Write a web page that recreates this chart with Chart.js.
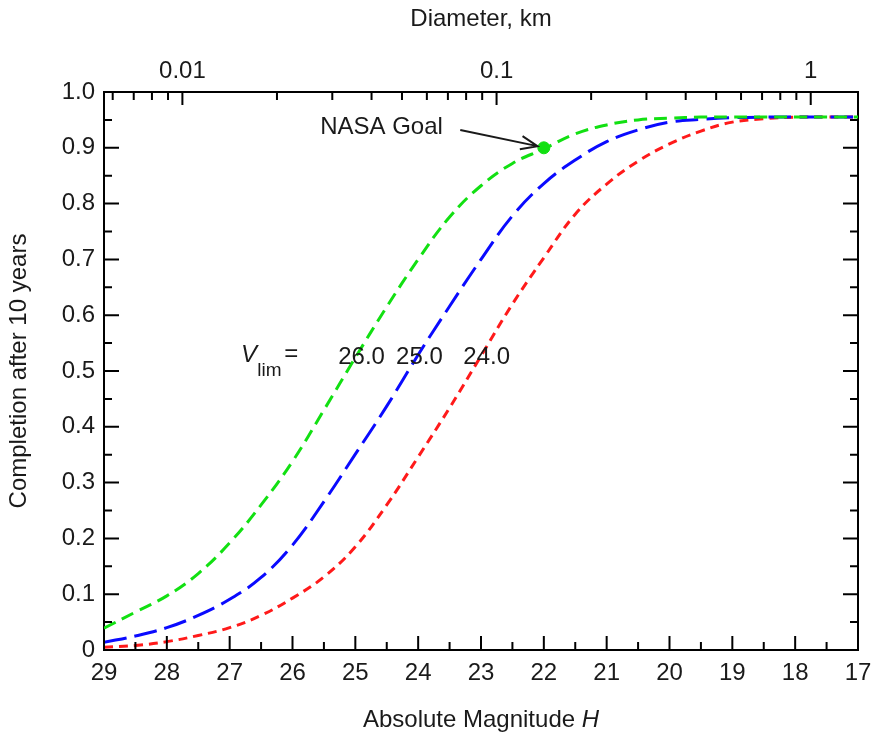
<!DOCTYPE html>
<html>
<head>
<meta charset="utf-8">
<script src="https://cdn.jsdelivr.net/npm/chart.js@4"></script>
<style>
  body { margin: 0; background: #fff; }
  #wrap { width: 871px; height: 739px; }
</style>
</head>
<body>
<div id="wrap"><canvas id="chartCompletion" width="871" height="739"></canvas></div>
<script>
// Datos
const magnitudes = [29, 28.5, 28, 27.5, 27, 26.5, 26, 25.5, 25, 24.5, 24, 23.5, 23, 22.5, 22, 21.5, 21, 20.5, 20, 19.5, 19, 18.5, 18, 17.5, 17];
const vlim260 = [0.039, 0.068, 0.097, 0.137, 0.192, 0.260, 0.338, 0.430, 0.524, 0.615, 0.700, 0.776, 0.832, 0.872, 0.898, 0.925, 0.941, 0.950, 0.953, 0.955, 0.955, 0.955, 0.955, 0.955, 0.955];
const vlim250 = [0.014, 0.025, 0.040, 0.062, 0.091, 0.130, 0.188, 0.266, 0.351, 0.437, 0.529, 0.616, 0.700, 0.778, 0.836, 0.878, 0.911, 0.932, 0.946, 0.951, 0.954, 0.955, 0.955, 0.955, 0.955];
const vlim240 = [0.005, 0.008, 0.015, 0.026, 0.040, 0.062, 0.093, 0.131, 0.185, 0.260, 0.346, 0.434, 0.527, 0.620, 0.703, 0.781, 0.835, 0.876, 0.907, 0.930, 0.946, 0.952, 0.955, 0.955, 0.955];
const nasaGoal = [{ x: 22, y: 0.90 }];

// Ejes
const hTicks = [29, 28, 27, 26, 25, 24, 23, 22, 21, 20, 19, 18, 17];
const diameterTicks = [0.006, 0.007, 0.008, 0.009, 0.01, 0.02, 0.03, 0.04, 0.05, 0.06, 0.07, 0.08, 0.09,
  0.1, 0.2, 0.3, 0.4, 0.5, 0.6, 0.7, 0.8, 0.9, 1];
const yTicks = [0, 0.1, 0.2, 0.3, 0.4, 0.5, 0.6, 0.7, 0.8, 0.9, 1.0];

// Diametro (km) para albedo 0.14
const ALBEDO = 0.14;
const diameterOf = h => 1329 / Math.sqrt(ALBEDO) * Math.pow(10, -h / 5);

const FONT = 'Liberation Sans, Arial, Helvetica, sans-serif';
const SIZE = 24;
const INK = '#1a1a1a';
const GREEN = '#12e012';
const BLUE = '#0a0aff';
const RED = '#ff1a1a';

const toPoints = vals => magnitudes.map((h, i) => ({ x: h, y: vals[i] }));
const isDecade = v => Math.abs(Math.log10(v) - Math.round(Math.log10(v))) < 1e-6;

// Marcas de los ejes hacia adentro y textos
const inwardTicks = {
  id: 'inwardTicks',
  afterDraw(chart) {
    const { ctx, chartArea: a, scales } = chart;
    ctx.save();
    ctx.strokeStyle = '#000';
    ctx.lineWidth = 2;
    ctx.beginPath();
    // abajo: mayores cada 1, menores cada 0.5
    hTicks.forEach(h => {
      const px = scales.x.getPixelForValue(h);
      ctx.moveTo(px, a.bottom); ctx.lineTo(px, a.bottom - 14);
      if (h > 17) {
        const pm = scales.x.getPixelForValue(h - 0.5);
        ctx.moveTo(pm, a.bottom); ctx.lineTo(pm, a.bottom - 8);
      }
    });
    // izquierda y derecha
    yTicks.forEach(v => {
      const py = scales.y.getPixelForValue(v);
      ctx.moveTo(a.left, py); ctx.lineTo(a.left + 15, py);
      ctx.moveTo(a.right, py); ctx.lineTo(a.right - 15, py);
      if (v < 1) {
        const pm = scales.y.getPixelForValue(v + 0.05);
        ctx.moveTo(a.left, pm); ctx.lineTo(a.left + 8, pm);
        ctx.moveTo(a.right, pm); ctx.lineTo(a.right - 8, pm);
      }
    });
    // arriba: diametro
    diameterTicks.forEach(d => {
      const px = scales.xTop.getPixelForValue(d);
      ctx.moveTo(px, a.top); ctx.lineTo(px, a.top + (isDecade(d) ? 13 : 8));
    });
    ctx.stroke();

    // NASA Goal con flecha
    const X = v => scales.x.getPixelForValue(v);
    const Y = v => scales.y.getPixelForValue(v);
    ctx.fillStyle = INK;
    ctx.font = SIZE + 'px ' + FONT;
    ctx.textBaseline = 'middle';
    ctx.textAlign = 'left';
    ctx.fillText('NASA Goal', X(25.56), Y(0.936));
    const x0 = X(23.33), y0 = Y(0.932), x1 = X(22.1), y1 = Y(0.903);
    ctx.strokeStyle = INK;
    ctx.lineWidth = 2;
    ctx.beginPath();
    ctx.moveTo(x0, y0); ctx.lineTo(x1, y1);
    const ang = Math.atan2(y1 - y0, x1 - x0);
    ctx.moveTo(x1 - 18 * Math.cos(ang - 0.38), y1 - 18 * Math.sin(ang - 0.38));
    ctx.lineTo(x1, y1);
    ctx.lineTo(x1 - 18 * Math.cos(ang + 0.38), y1 - 18 * Math.sin(ang + 0.38));
    ctx.stroke();

    // V_lim =
    const ty = Y(0.525);
    ctx.font = 'italic ' + SIZE + 'px ' + FONT;
    ctx.fillText('V', X(26.82), ty - 2);
    ctx.font = '19px ' + FONT;
    ctx.fillText('lim', X(26.56), ty + 14);
    ctx.font = SIZE + 'px ' + FONT;
    ctx.fillText('=', X(26.13), ty - 3);
    ctx.textAlign = 'center';
    ctx.fillText('26.0', X(24.9), ty);
    ctx.fillText('25.0', X(23.98), ty);
    ctx.fillText('24.0', X(22.91), ty);

    // titulo del eje inferior
    const cx = (a.left + a.right) / 2;
    const t1 = 'Absolute Magnitude ';
    ctx.font = SIZE + 'px ' + FONT;
    const w1 = ctx.measureText(t1).width;
    ctx.font = 'italic ' + SIZE + 'px ' + FONT;
    const w2 = ctx.measureText('H').width;
    ctx.textAlign = 'left';
    const sx = cx - (w1 + w2) / 2;
    ctx.font = SIZE + 'px ' + FONT;
    ctx.fillText(t1, sx, 720);
    ctx.font = 'italic ' + SIZE + 'px ' + FONT;
    ctx.fillText('H', sx + w1, 720);
    ctx.restore();
  }
};

const ctx = document.getElementById('chartCompletion').getContext('2d');

const lineStyle = (color, dash) => ({
  borderColor: color,
  borderWidth: 3,
  borderDash: dash,
  pointRadius: 0,
  tension: 0.4,
  fill: false
});

const chartCompletion = new Chart(ctx, {
  type: 'line',
  data: {
    datasets: [
      { label: 'Vlim = 26.0', data: toPoints(vlim260), ...lineStyle(GREEN, [13, 7]) },
      { label: 'Vlim = 25.0', data: toPoints(vlim250), ...lineStyle(BLUE, [23, 8]) },
      { label: 'Vlim = 24.0', data: toPoints(vlim240), ...lineStyle(RED, [9, 6]) },
      {
        type: 'scatter',
        label: 'NASA Goal',
        data: nasaGoal,
        pointRadius: 6,
        pointBackgroundColor: GREEN,
        pointBorderColor: GREEN,
        showLine: false
      }
    ]
  },
  options: {
    responsive: false,
    animation: false,
    layout: { padding: 0 },
    plugins: {
      legend: { display: false },
      tooltip: { enabled: false }
    },
    scales: {
      x: {
        type: 'linear',
        position: 'bottom',
        min: 17,
        max: 29,
        reverse: true,
        afterBuildTicks: axis => { axis.ticks = hTicks.map(v => ({ value: v })); },
        afterFit: axis => { axis.height = 89; axis.paddingLeft = 0; axis.paddingRight = 0; },
        grid: { display: false, drawTicks: false },
        border: { display: true, color: '#000', width: 2 },
        ticks: { color: INK, font: { family: FONT, size: SIZE }, padding: 9, maxRotation: 0, autoSkip: false }
      },
      xTop: {
        type: 'logarithmic',
        position: 'top',
        min: diameterOf(29),
        max: diameterOf(17),
        afterBuildTicks: axis => { axis.ticks = diameterTicks.map(v => ({ value: v })); },
        afterFit: axis => { axis.height = 92; axis.paddingLeft = 0; axis.paddingRight = 0; },
        grid: { display: false, drawTicks: false },
        border: { display: true, color: '#000', width: 2 },
        ticks: {
          color: INK,
          font: { family: FONT, size: SIZE },
          padding: 6,
          maxRotation: 0,
          autoSkip: false,
          callback: v => isDecade(v) ? String(Number(v.toPrecision(3))) : ''
        },
        title: { display: true, text: 'Diameter, km', color: INK, font: { family: FONT, size: SIZE }, padding: { top: 5 } }
      },
      y: {
        type: 'linear',
        position: 'left',
        min: 0,
        max: 1,
        afterBuildTicks: axis => { axis.ticks = yTicks.map(v => ({ value: v })); },
        afterFit: axis => { axis.width = 104; },
        grid: { display: false, drawTicks: false },
        border: { display: true, color: '#000', width: 2 },
        ticks: {
          color: INK,
          font: { family: FONT, size: SIZE },
          padding: 9,
          callback: v => v === 0 ? '0' : v.toFixed(1)
        },
        title: { display: true, text: 'Completion after 10 years', color: INK, font: { family: FONT, size: SIZE }, padding: { top: 5 } }
      },
      y2: {
        type: 'linear',
        position: 'right',
        min: 0,
        max: 1,
        afterFit: axis => { axis.width = 13; },
        grid: { display: false, drawTicks: false },
        border: { display: true, color: '#000', width: 2 },
        ticks: { display: false }
      }
    }
  },
  plugins: [inwardTicks]
});
</script>
</body>
</html>
